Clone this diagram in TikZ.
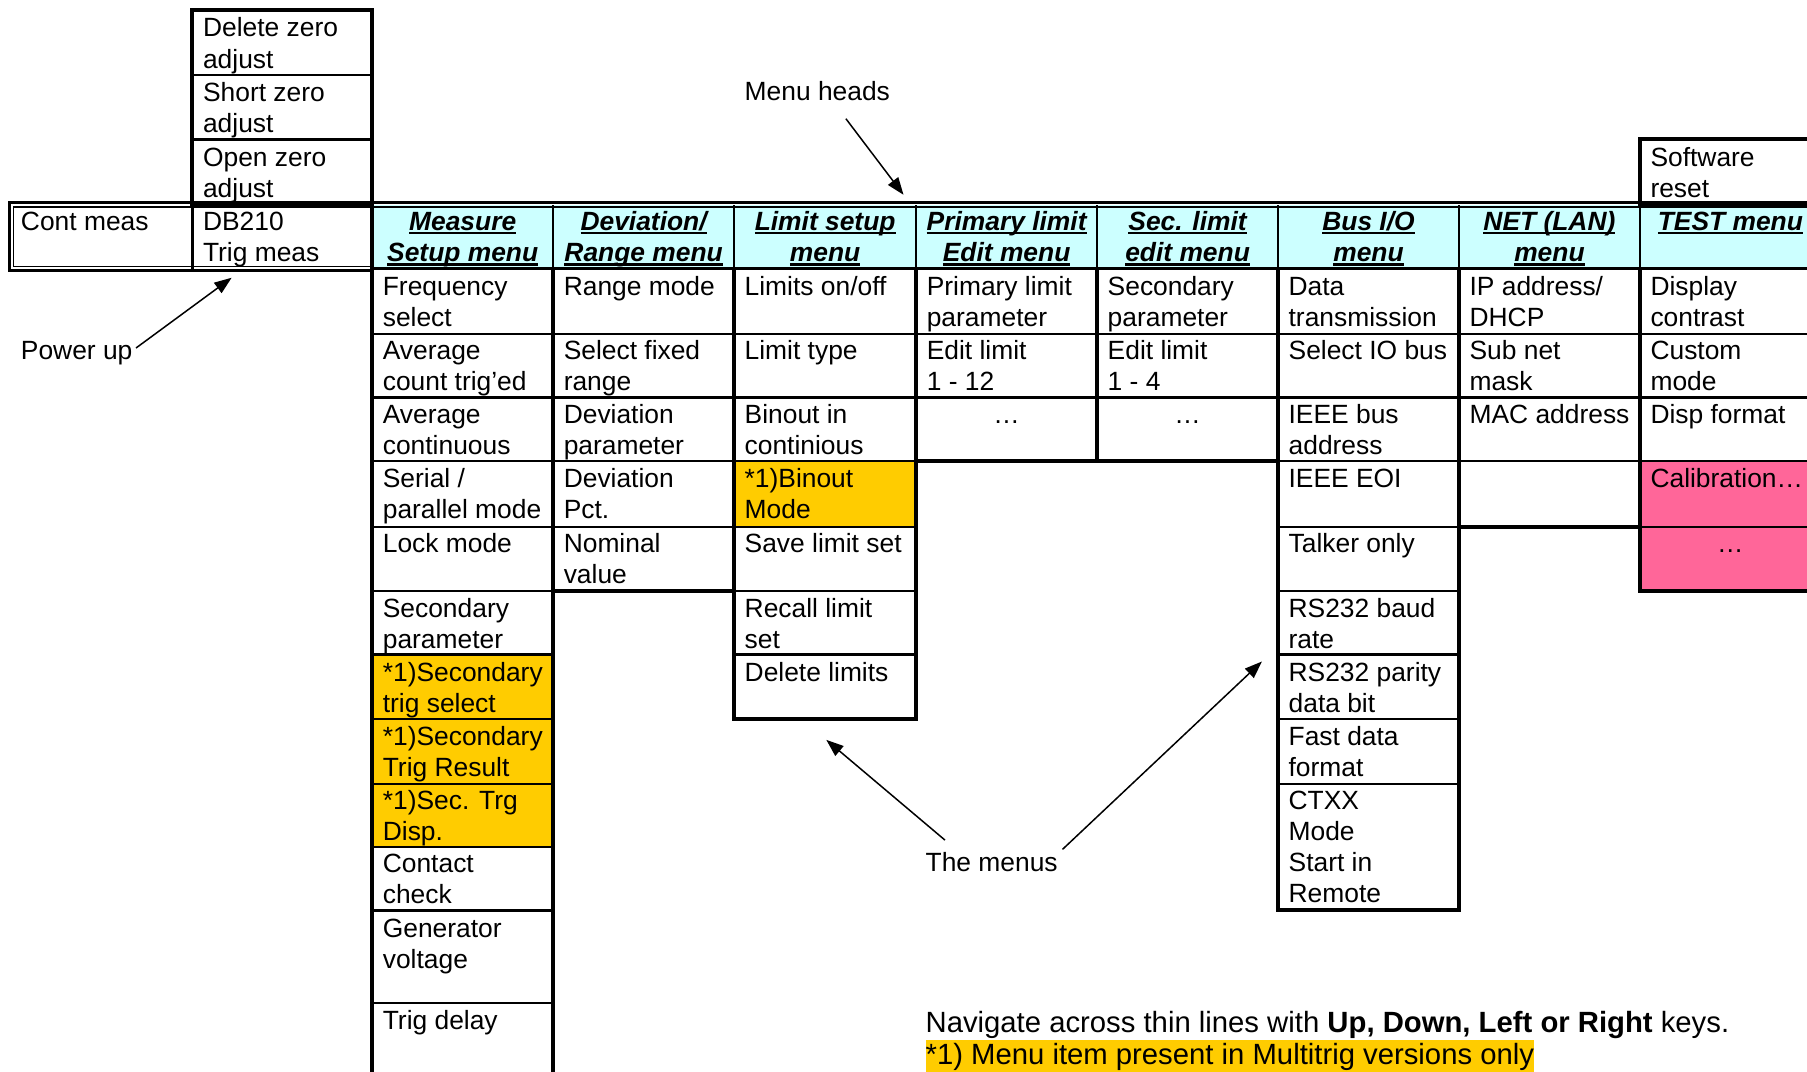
\documentclass[tikz,border=0pt]{standalone}
\usepackage{fontspec}
\setmainfont{Liberation Sans}
\usetikzlibrary{arrows.meta}
\definecolor{hdr}{HTML}{CCFFFF}
\definecolor{opt}{HTML}{FFCC00}
\definecolor{calib}{HTML}{FF6699}
\newcommand\cellfont{\fontsize{22.9bp}{27bp}\selectfont}
\newcommand\notefont{\fontsize{25.4bp}{29bp}\selectfont}
\newcommand\ulx[1]{\setbox0=\hbox{#1}\rlap{\rule[-3.3bp]{\wd0}{1.9bp}}\box0}
\tikzset{
  cell/.style={anchor=north west, inner sep=0pt, align=left, font=\cellfont},
  ctr/.style={anchor=north, inner sep=0pt, align=center, font=\cellfont},
  head/.style={anchor=north, inner sep=0pt, align=center, font=\cellfont\bfseries\itshape},
  lbl/.style={anchor=base west, inner sep=0pt, font=\cellfont},
  thickln/.style={line width=3.4bp},
  thinln/.style={line width=1.9bp},
  arr/.style={line width=1.3bp, -{Triangle[length=15bp,width=11bp]}},
}
\begin{document}
\begin{tikzpicture}[x=1bp,y=-1bp]
\useasboundingbox (0,0) rectangle (1568,930);
\clip (0,0) rectangle (1568,930);
% ---------- fills
\fill[hdr] (323,178) rectangle (1600,232);
\fill[opt] (323,568) rectangle (480,735);
\fill[opt] (637,400) rectangle (795,457);
\fill[calib] (1423,400) rectangle (1600,513);
% ---------- top stack
\draw[thickln] (167,9) rectangle (323,177);
\draw[thinln] (167,65) -- (323,65) (167,121) -- (323,121);
% ---------- software reset
\draw[thickln] (1423,121) rectangle (1620,177);
% ---------- cont meas row + header frame (double line)
\draw[line width=2.4bp] (1620,176) -- (8,176) -- (8,234.6) -- (323,234.6);
\draw[line width=1.1bp] (1620,179.6) -- (11.6,179.6) -- (11.6,231.4) -- (323,231.4);
\draw[thinln] (167,176) -- (167,233);
\draw[line width=2.2bp] (323,232.5) -- (1620,232.5);
\draw[thickln] (323,176) -- (323,233);
\foreach \xx in {480,637,795,952,1109,1266,1423}
  \draw[thinln] (\xx,178) -- (\xx,233);
% ---------- columns
\draw[thickln] (323,233) rectangle (480,960);
\foreach \yy in {290,345,400,457,513,568,624,680,735,790,870}
  \draw[thinln] (323,\yy) -- (480,\yy);
\draw[thickln] (480,233) rectangle (637,513);
\foreach \yy in {290,345,400,457}
  \draw[thinln] (480,\yy) -- (637,\yy);
\draw[thickln] (637,233) rectangle (795,624);
\foreach \yy in {290,345,400,457,513,568}
  \draw[thinln] (637,\yy) -- (795,\yy);
\draw[thickln] (795,233) rectangle (952,400);
\draw[thickln] (952,233) rectangle (1109,400);
\foreach \yy in {290,345}
  \draw[thinln] (795,\yy) -- (1109,\yy);
\draw[thickln] (1109,233) rectangle (1266,790);
\foreach \yy in {290,345,400,457,513,568,624,680}
  \draw[thinln] (1109,\yy) -- (1266,\yy);
\draw[thickln] (1266,233) rectangle (1423,457);
\foreach \yy in {290,345,400}
  \draw[thinln] (1266,\yy) -- (1423,\yy);
\draw[thickln] (1423,233) rectangle (1620,513);
\foreach \yy in {290,345,400,457}
  \draw[thinln] (1423,\yy) -- (1620,\yy);
% ---------- top stack texts
\node[cell] (dz) at (176,13) {\strut Delete zero\\adjust};
\node[cell] (sz) at (176,69) {\strut Short zero\\adjust};
\node[cell] (oz) at (176,125) {\strut Open zero\\adjust};
\node[cell] (db) at (176,181) {\strut DB210\\Trig meas};
\node[cell] (cm) at (18,181) {\strut Cont meas};
\node[cell] (sr) at (1432,125) {\strut Software\\reset};
% ---------- headers
\node[head] (h1) at (401.5,181) {\strut\ulx{Measure}\\\ulx{Setup menu}};
\node[head] (h2) at (558.5,181) {\strut\ulx{Deviation/}\\\ulx{Range menu}};
\node[head] (h3) at (716,181) {\strut\ulx{Limit setup}\\\ulx{menu}};
\node[head] (h4) at (873.5,181) {\strut\ulx{Primary limit}\\\ulx{Edit menu}};
\node[head] (h5) at (1030.5,181) {\strut\ulx{Sec. limit}\\\ulx{edit menu}};
\node[head] (h6) at (1187.5,181) {\strut\ulx{Bus I/O}\\\ulx{menu}};
\node[head] (h7) at (1344.5,181) {\strut\ulx{NET (LAN)}\\\ulx{menu}};
\node[head] (h8) at (1501.5,181) {\strut\ulx{TEST menu}};
% ---------- measure setup
\node[cell] (m1) at (332,237) {\strut Frequency\\select};
\node[cell] (m2) at (332,293) {\strut Average\\count trig'ed};
\node[cell] (m3) at (332,348) {\strut Average\\continuous};
\node[cell] (m4) at (332,404) {\strut Serial /\\parallel mode};
\node[cell] (m5) at (332,460) {\strut Lock mode};
\node[cell] (m6) at (332,517) {\strut Secondary\\parameter};
\node[cell] (m7) at (332,572) {\strut *1)Secondary\\trig select};
\node[cell] (m8) at (332,628) {\strut *1)Secondary\\Trig Result};
\node[cell] (m9) at (332,683) {\strut *1)Sec. Trg\\Disp.};
\node[cell] (m10) at (332,738) {\strut Contact\\check};
\node[cell] (m11) at (332,794) {\strut Generator\\voltage};
\node[cell] (m12) at (332,874) {\strut Trig delay};
% ---------- deviation / range
\node[cell] (d1) at (489,237) {\strut Range mode};
\node[cell] (d2) at (489,293) {\strut Select fixed\\range};
\node[cell] (d3) at (489,348) {\strut Deviation\\parameter};
\node[cell] (d4) at (489,404) {\strut Deviation\\Pct.};
\node[cell] (d5) at (489,460) {\strut Nominal\\value};
% ---------- limit setup
\node[cell] (l1) at (646,237) {\strut Limits on/off};
\node[cell] (l2) at (646,293) {\strut Limit type};
\node[cell] (l3) at (646,348) {\strut Binout in\\continious};
\node[cell] (l4) at (646,404) {\strut *1)Binout\\Mode};
\node[cell] (l5) at (646,460) {\strut Save limit set};
\node[cell] (l6) at (646,517) {\strut Recall limit\\set};
\node[cell] (l7) at (646,572) {\strut Delete limits};
% ---------- primary / secondary limit
\node[cell] (p1) at (804,237) {\strut Primary limit\\parameter};
\node[cell] (p2) at (804,293) {\strut Edit limit\\1 - 12};
\node[ctr] (p3) at (873.5,348) {\strut …};
\node[cell] (s1) at (961,237) {\strut Secondary\\parameter};
\node[cell] (s2) at (961,293) {\strut Edit limit\\1 - 4};
\node[ctr] (s3) at (1030.5,348) {\strut …};
% ---------- bus I/O
\node[cell] (b1) at (1118,237) {\strut Data\\transmission};
\node[cell] (b2) at (1118,293) {\strut Select IO bus};
\node[cell] (b3) at (1118,348) {\strut IEEE bus\\address};
\node[cell] (b4) at (1118,404) {\strut IEEE EOI};
\node[cell] (b5) at (1118,460) {\strut Talker only};
\node[cell] (b6) at (1118,517) {\strut RS232 baud\\rate};
\node[cell] (b7) at (1118,572) {\strut RS232 parity\\data bit};
\node[cell] (b8) at (1118,628) {\strut Fast data\\format};
\node[cell] (b9) at (1118,683) {\strut CTXX\\Mode\\Start in\\Remote};
% ---------- net
\node[cell] (n1) at (1275,237) {\strut IP address/\\DHCP};
\node[cell] (n2) at (1275,293) {\strut Sub net\\mask};
\node[cell] (n3) at (1275,348) {\strut MAC address};
% ---------- test
\node[cell] (t1) at (1432,237) {\strut Display\\contrast};
\node[cell] (t2) at (1432,293) {\strut Custom\\mode};
\node[cell] (t3) at (1432,348) {\strut Disp format};
\node[cell] (t4) at (1432,404) {\strut Calibration…};
\node[ctr] (t5) at (1501.5,460) {\strut …};
% ---------- labels and arrows
\node[lbl] (mh) at (646,87) {Menu heads};
\node[lbl] (pu) at (18,312) {Power up};
\node[lbl] (tm) at (803,756) {The menus};
\coordinate (mhA) at (734,103);
\coordinate (mhB) at (784,169);
\coordinate (puA) at (118,302);
\coordinate (puB) at (201,241);
\coordinate (tmA) at (820,729);
\coordinate (tmB) at (717,642);
\coordinate (tmC) at (922,737);
\coordinate (tmD) at (1095,574);
\draw[arr] (mhA) -- (mhB);
\draw[arr] (puA) -- (puB);
\draw[arr] (tmA) -- (tmB);
\draw[arr] (tmC) -- (tmD);
% ---------- notes
\node[anchor=base west, inner sep=0pt, font=\notefont] (nav) at (803,896)
  {Navigate across thin lines with \textbf{Up, Down, Left or Right} keys.};
\node[anchor=base west, inner sep=0pt, fill=opt, text height=21.5bp, text depth=8bp, font=\notefont] (note) at (803,924)
  {*1) Menu item present in Multitrig versions only};
\end{tikzpicture}
\end{document}
